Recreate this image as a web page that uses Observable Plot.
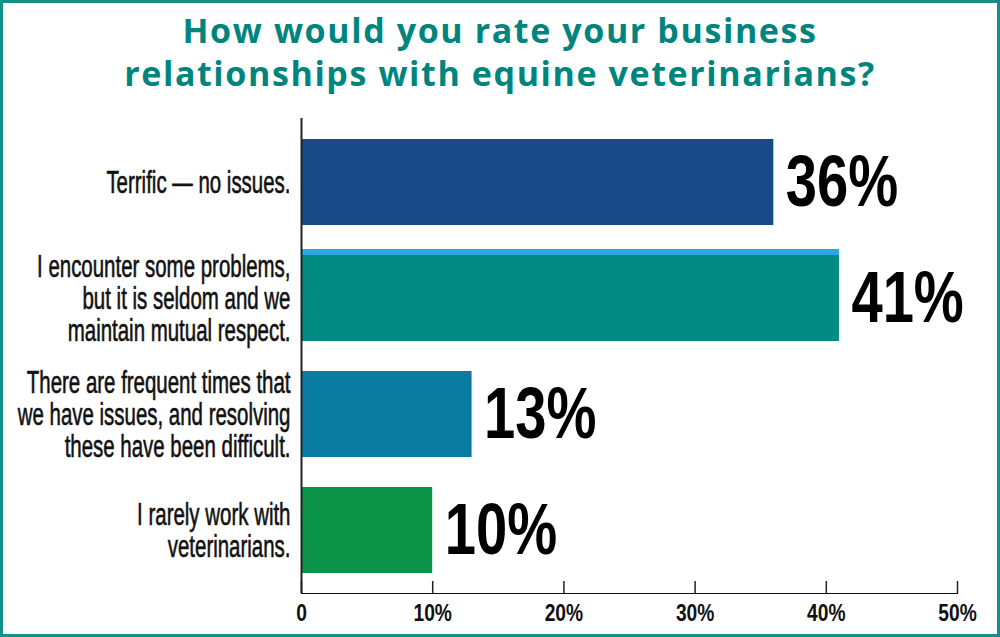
<!DOCTYPE html>
<html>
<head>
<meta charset="utf-8">
<script src="https://cdn.jsdelivr.net/npm/d3@7"></script>
<script src="https://cdn.jsdelivr.net/npm/@observablehq/plot@0.6"></script>
<style>
  html, body { margin: 0; padding: 0; background: #fff; }
  #card { box-sizing: border-box; width: 1000px; height: 637px; border: 3px solid #13908a; background: #fff; overflow: hidden; }
  #title { height: 97px; box-sizing: border-box; padding-top: 6px; margin: 0; text-align: center;
    font-family: "Open Sans", Lato, sans-serif; font-weight: 700; font-size: 34px; line-height: 43px;
    letter-spacing: 1.6px; color: #00857e; white-space: nowrap; }
  #chart svg { display: block; }
</style>
</head>
<body>
<div id="card">
  <h1 id="title">How would you rate your business<br>relationships with equine veterinarians?</h1>
  <div id="chart"></div>
</div>
<script>
// ---- data ----
const categories = [
  "Terrific — no issues.",
  "I encounter some problems,\nbut it is seldom and we\nmaintain mutual respect.",
  "There are frequent times that\nwe have issues, and resolving\nthese have been difficult.",
  "I rarely work with\nveterinarians."
];
const values = [36, 41, 13, 10];
const xTicks = [0, 10, 20, 30, 40, 50];
const highlighted = [categories[1]];

// ---- styles ----
const barColors = ["#174a86", "#008a82", "#0a7ba1", "#0b9448"];
const stripColor = "#2aa8e0";

const data = categories.map((label, i) => ({label, value: values[i], color: barColors[i]}));

const W = 994, H = 534, mt = 18, mb = 41, ml = 298, mr = 40;
const frameH = H - mt - mb;

const chart = Plot.plot({
  width: W,
  height: H,
  marginTop: mt,
  marginBottom: mb,
  marginLeft: ml,
  marginRight: mr,
  style: {fontFamily: "'Liberation Sans', Arial, sans-serif", fontSize: "24px", fontWeight: "bold", color: "#111", background: "#fff"},
  x: {domain: [0, 50], ticks: xTicks, tickFormat: d => d === 0 ? "0" : `${d}%`, tickSize: 0, tickPadding: 10, line: true, label: null},
  y: {domain: categories, paddingInner: 0.26, paddingOuter: 0.174, axis: null},
  marks: [
    Plot.barX(data.filter(d => highlighted.includes(d.label)), {x: "value", y: "label", fill: stripColor, insetTop: -6, insetBottom: 80}),
    Plot.barX(data, {x: "value", y: "label", fill: "color"}),
    Plot.tickX(xTicks, {x: d => d, stroke: "#222", strokeWidth: 1.5, insetTop: frameH - 12}),
    Plot.ruleX([0], {stroke: "#222", strokeWidth: 2}),
    Plot.text(data, {x: d => 0, y: "label", text: "label", textAnchor: "end", dx: -11, fontSize: 31, fontWeight: "normal", lineHeight: 1.03, fill: "#111", stroke: "#111", strokeWidth: 0.6}),
    Plot.text(data, {x: "value", y: "label", text: d => `${d.value}%`, textAnchor: "start", dx: 12, fontSize: 72, fontWeight: "bold", fill: "#000"})
  ]
});

document.getElementById("chart").appendChild(chart);

// condense the lettering (the original uses a narrow display face)
const textGroups = chart.querySelectorAll('g[aria-label="text"]');
function squeeze(nodes, s) {
  nodes.forEach(t => t.setAttribute("transform", ((t.getAttribute("transform") || "") + ` scale(${s},1)`).trim()));
}
if (textGroups[0]) squeeze(textGroups[0].querySelectorAll("text"), 0.66);
if (textGroups[1]) squeeze(textGroups[1].querySelectorAll("text"), 0.78);
squeeze(chart.querySelectorAll('g[aria-label^="x-axis"] text'), 0.8);
// heavier axis line
chart.querySelectorAll('path.domain, g[aria-label="x-axis line"] *').forEach(el => { el.setAttribute("stroke-width", 2); el.setAttribute("stroke", "#222"); });
</script>
</body>
</html>
